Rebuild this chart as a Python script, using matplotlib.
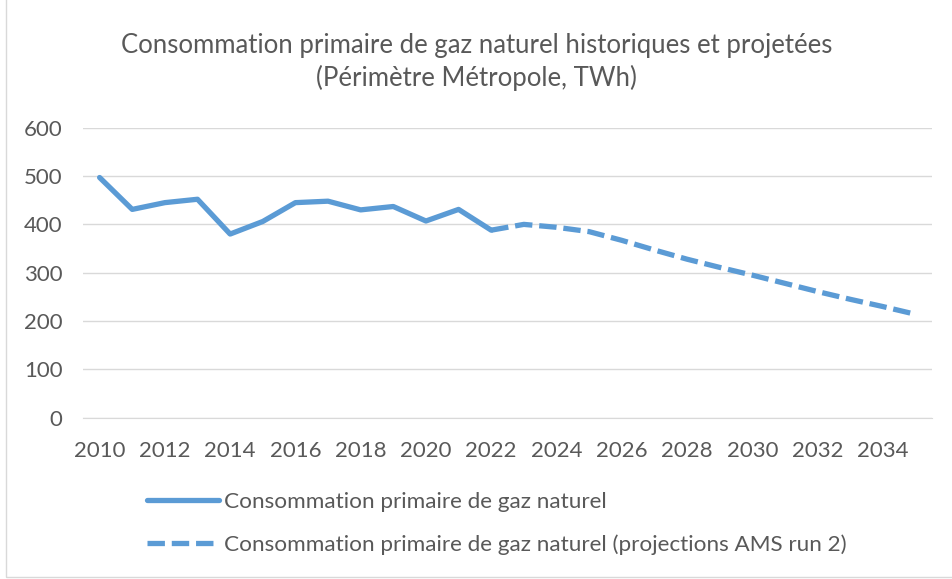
import matplotlib.pyplot as plt
from matplotlib.patches import Rectangle

plt.rcParams['font.family'] = ['Lato', 'DejaVu Sans']

# historical consumption (TWh)
years_hist = list(range(2010, 2023))
conso_hist = [497, 431, 445, 452, 380, 406, 445, 448, 430, 437, 407, 431, 388]

# projections AMS run 2 (TWh)
years_proj = list(range(2022, 2036))
conso_proj = [388, 400, 394, 385, 367, 347, 328, 311, 295, 278, 261, 245, 230, 214]

xticks = list(range(2010, 2035, 2))
yticks = [0, 100, 200, 300, 400, 500, 600]

blue = '#5b9bd5'
grey_txt = '#595959'
grid_col = '#d9d9d9'

fig = plt.figure(figsize=(9.53, 5.79), dpi=100)
ax = fig.add_axes([0.0874, 0.2786, 0.8903, 0.5008])

ax.plot(years_hist, conso_hist, color=blue, lw=3.8, solid_capstyle='round',
        solid_joinstyle='round', label='Consommation primaire de gaz naturel')
ax.plot(years_proj, conso_proj, color=blue, lw=3.8, dashes=(3.3, 1.3),
        dash_capstyle='butt',
        label='Consommation primaire de gaz naturel (projections AMS run 2)')

ax.set_xlim(2009.5, 2035.5)
ax.set_ylim(0, 600)
ax.set_xticks(xticks)
ax.set_yticks(yticks)
ax.grid(axis='y', color=grid_col, lw=1)
ax.set_axisbelow(True)
for s in ['top', 'right', 'left']:
    ax.spines[s].set_visible(False)
ax.spines['bottom'].set_color(grid_col)
ax.tick_params(length=0, labelsize=16, colors=grey_txt)
ax.tick_params(axis='y', pad=15)
ax.tick_params(axis='x', pad=17)

fig.text(0.5, 0.922, 'Consommation primaire de gaz naturel historiques et projetées',
         ha='center', va='center', fontsize=18.5, color=grey_txt)
fig.text(0.5, 0.865, '(Périmètre Métropole, TWh)',
         ha='center', va='center', fontsize=18.5, color=grey_txt)

leg = fig.legend(loc='upper left', bbox_to_anchor=(0.133, 0.186),
                 frameon=False, fontsize=16.2, handlelength=3.2,
                 handletextpad=0.22, labelspacing=1.0)
for t in leg.get_texts():
    t.set_color(grey_txt)

# light chart border
fig.patches.append(Rectangle((0.006, 0.003), 1.2, 1.2, transform=fig.transFigure,
                             fill=False, edgecolor='#d9d9d9', lw=1))

fig.savefig('out.png', dpi=100)
